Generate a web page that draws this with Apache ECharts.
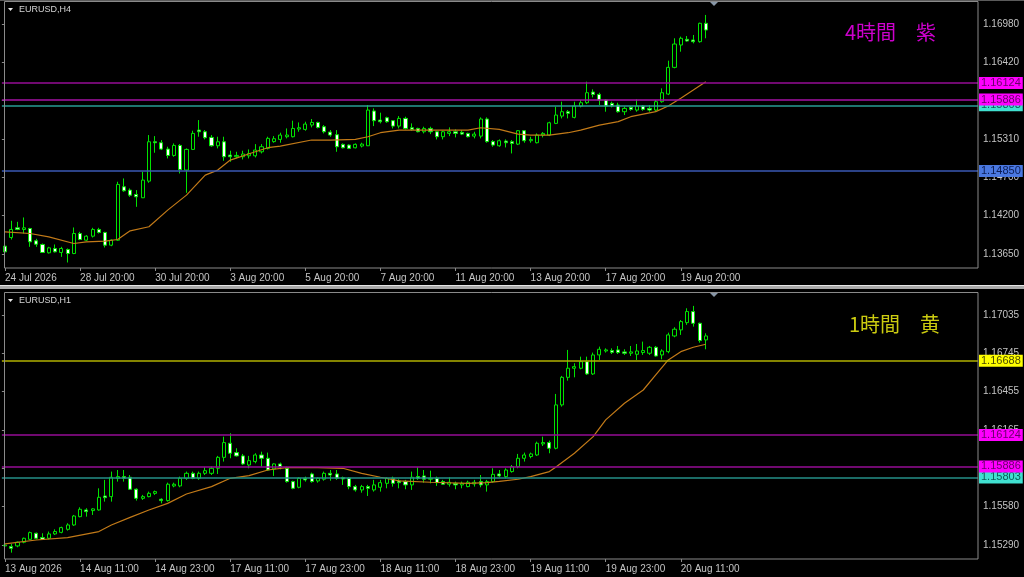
<!DOCTYPE html>
<html><head><meta charset="utf-8">
<script src="https://cdn.jsdelivr.net/npm/echarts@6/dist/echarts.min.js"></script>
<style>html,body{margin:0;padding:0;background:#000;overflow:hidden}#c{width:1024px;height:577px}</style>
</head><body><div id="c"></div>
<script>
// ---- H4 panel data: [open, close, low, high] ----
const h4Candles = [
[1.13764,1.13681,1.13657,1.13778],[1.13889,1.14005,1.13860,1.14131],[1.14029,1.14005,1.13995,1.14116],[1.14005,1.14029,1.13947,1.14179],
[1.14019,1.13826,1.13754,1.14029],[1.13841,1.13792,1.13754,1.13870],[1.13788,1.13672,1.13667,1.13802],[1.13667,1.13739,1.13657,1.13754],
[1.13730,1.13681,1.13672,1.13788],[1.13672,1.13730,1.13609,1.13754],[1.13715,1.13657,1.13527,1.13730],[1.13657,1.13947,1.13648,1.14034],
[1.13947,1.13860,1.13850,1.13971],[1.13850,1.13908,1.13841,1.13923],[1.13908,1.14005,1.13889,1.14029],[1.14005,1.13962,1.13947,1.14029],
[1.13962,1.13778,1.13744,1.13971],[1.13778,1.13850,1.13763,1.13860],[1.13850,1.14657,1.13841,1.14696],[1.14623,1.14565,1.14551,1.14744],
[1.14575,1.14502,1.14478,1.14599],[1.14512,1.14478,1.14333,1.14575],[1.14464,1.14720,1.14460,1.14841],[1.14705,1.15275,1.14681,1.15372],
[1.15275,1.15261,1.15116,1.15357],[1.15261,1.15169,1.15155,1.15299],[1.15169,1.15077,1.15034,1.15203],[1.15077,1.15222,1.15058,1.15251],
[1.15222,1.14874,1.14816,1.15241],[1.14865,1.15164,1.14536,1.15179],[1.15164,1.15396,1.15155,1.15435],[1.15444,1.15420,1.15348,1.15589],
[1.15420,1.15333,1.15309,1.15444],[1.15338,1.15217,1.15203,1.15372],[1.15217,1.15275,1.15179,1.15348],[1.15275,1.15058,1.15000,1.15348],
[1.15082,1.15058,1.14985,1.15145],[1.15058,1.15077,1.15034,1.15130],[1.15058,1.15097,1.15019,1.15145],[1.15072,1.15106,1.15034,1.15164],
[1.15072,1.15155,1.15048,1.15241],[1.15130,1.15203,1.15106,1.15241],[1.15179,1.15324,1.15164,1.15348],[1.15277,1.15319,1.15261,1.15357],
[1.15309,1.15372,1.15261,1.15406],[1.15348,1.15372,1.15324,1.15468],[1.15348,1.15468,1.15338,1.15580],[1.15459,1.15478,1.15420,1.15555],
[1.15454,1.15531,1.15435,1.15565],[1.15517,1.15555,1.15483,1.15604],[1.15555,1.15483,1.15468,1.15565],[1.15493,1.15420,1.15396,1.15517],
[1.15415,1.15372,1.15348,1.15444],[1.15377,1.15203,1.15130,1.15444],[1.15237,1.15188,1.15179,1.15251],[1.15227,1.15179,1.15169,1.15237],
[1.15188,1.15237,1.15179,1.15251],[1.15213,1.15241,1.15193,1.15261],[1.15217,1.15734,1.15213,1.15807],[1.15720,1.15580,1.15502,1.15758],
[1.15589,1.15565,1.15541,1.15696],[1.15623,1.15565,1.15550,1.15638],[1.15580,1.15502,1.15468,1.15589],[1.15502,1.15613,1.15468,1.15647],
[1.15613,1.15468,1.15454,1.15638],[1.15478,1.15454,1.15435,1.15541],[1.15468,1.15420,1.15411,1.15478],[1.15420,1.15468,1.15396,1.15493],
[1.15468,1.15420,1.15386,1.15493],[1.15420,1.15348,1.15309,1.15435],[1.15348,1.15420,1.15309,1.15435],[1.15396,1.15420,1.15357,1.15483],
[1.15420,1.15396,1.15338,1.15454],[1.15411,1.15386,1.15372,1.15444],[1.15396,1.15348,1.15338,1.15406],[1.15357,1.15386,1.15324,1.15420],
[1.15357,1.15604,1.15324,1.15628],[1.15604,1.15277,1.15261,1.15628],[1.15277,1.15227,1.15203,1.15299],[1.15217,1.15290,1.15203,1.15309],
[1.15285,1.15261,1.15193,1.15309],[1.15275,1.15251,1.15106,1.15299],[1.15241,1.15435,1.15227,1.15444],[1.15435,1.15290,1.15261,1.15444],
[1.15290,1.15309,1.15261,1.15348],[1.15261,1.15372,1.15251,1.15396],[1.15372,1.15396,1.15338,1.15415],[1.15372,1.15550,1.15357,1.15565],
[1.15541,1.15662,1.15531,1.15782],[1.15647,1.15710,1.15613,1.15855],[1.15710,1.15686,1.15613,1.15734],[1.15628,1.15792,1.15613,1.15855],
[1.15792,1.15840,1.15773,1.15879],[1.15840,1.15985,1.15821,1.16145],[1.15995,1.15961,1.15918,1.16034],[1.15961,1.15879,1.15807,1.15985],
[1.15879,1.15792,1.15710,1.15889],[1.15831,1.15792,1.15773,1.15855],[1.15807,1.15710,1.15696,1.15840],[1.15710,1.15758,1.15662,1.15783],
[1.15773,1.15744,1.15724,1.15792],[1.15734,1.15792,1.15710,1.15889],[1.15792,1.15744,1.15724,1.15807],[1.15758,1.15734,1.15710,1.15807],
[1.15734,1.15855,1.15710,1.15879],[1.15855,1.15985,1.15840,1.16048],[1.15966,1.16352,1.15951,1.16449],[1.16352,1.16690,1.16338,1.16773],
[1.16676,1.16773,1.16579,1.16797],[1.16758,1.16734,1.16724,1.16806],[1.16748,1.16724,1.16700,1.16821],[1.16724,1.16990,1.16710,1.16999],
[1.16990,1.16893,1.16773,1.17111]
];
const h4MaIdx = [0,4,7,11,13,16,18,20,23,26,29,32,34,36,40,42,44,49,52,56,58,60,63,66,71,74,76,79,82,84,87,90,92,95,98,100,104,106,108,110,112];
const h4MaVal = [1.13971,1.13947,1.13899,1.13802,1.13826,1.13836,1.13860,1.13986,1.14044,1.14285,1.14502,1.14792,1.14865,1.15010,1.15130,1.15189,1.15213,1.15300,1.15300,1.15310,1.15348,1.15406,1.15444,1.15444,1.15444,1.15444,1.15478,1.15454,1.15386,1.15372,1.15372,1.15406,1.15444,1.15517,1.15566,1.15638,1.15711,1.15793,1.15904,1.16024,1.16145];
const h4Levels = [1.15803, 1.16124, 1.15886, 1.14850];
const h4TimeLabels = ['24 Jul 2026','28 Jul 20:00','30 Jul 20:00','3 Aug 20:00','5 Aug 20:00','7 Aug 20:00','11 Aug 20:00','13 Aug 20:00','17 Aug 20:00','19 Aug 20:00'];
const h4PriceLabels = ['1.13650','1.14200','1.14700','1.15310','1.15865','1.16420','1.16980'];

// ---- H1 panel data: [open, close, low, high] ----
const h1Candles = [
[1.15283,1.15290,1.15265,1.15303],[1.15278,1.15265,1.15232,1.15298],[1.15283,1.15311,1.15273,1.15316],[1.15311,1.15341,1.15303,1.15346],
[1.15333,1.15384,1.15328,1.15392],[1.15379,1.15341,1.15333,1.15384],[1.15346,1.15333,1.15328,1.15379],[1.15341,1.15374,1.15333,1.15392],
[1.15374,1.15392,1.15366,1.15409],[1.15386,1.15422,1.15379,1.15429],[1.15409,1.15442,1.15399,1.15455],[1.15442,1.15510,1.15435,1.15518],
[1.15505,1.15561,1.15500,1.15576],[1.15556,1.15543,1.15505,1.15569],[1.15551,1.15564,1.15518,1.15569],[1.15556,1.15652,1.15551,1.15720],
[1.15662,1.15649,1.15619,1.15784],[1.15657,1.15804,1.15619,1.15847],[1.15796,1.15809,1.15771,1.15859],[1.15809,1.15796,1.15771,1.15859],
[1.15804,1.15713,1.15708,1.15821],[1.15713,1.15644,1.15627,1.15720],[1.15644,1.15657,1.15632,1.15670],[1.15657,1.15682,1.15652,1.15695],
[1.15682,1.15695,1.15670,1.15703],[1.15637,1.15627,1.15606,1.15644],[1.15627,1.15751,1.15619,1.15763],[1.15738,1.15751,1.15728,1.15763],
[1.15738,1.15796,1.15728,1.15809],[1.15796,1.15834,1.15784,1.15847],[1.15834,1.15796,1.15789,1.15847],[1.15796,1.15834,1.15784,1.15847],
[1.15834,1.15854,1.15821,1.15880],[1.15834,1.15872,1.15821,1.15885],[1.15872,1.15955,1.15829,1.15966],[1.15955,1.16067,1.15923,1.16112],
[1.16062,1.15986,1.15948,1.16138],[1.15991,1.15966,1.15961,1.16024],[1.15966,1.15905,1.15897,1.15981],[1.15897,1.15930,1.15872,1.15966],
[1.15923,1.15973,1.15910,1.15986],[1.15973,1.15948,1.15885,1.15998],[1.15948,1.15859,1.15854,1.15991],[1.15867,1.15905,1.15814,1.15910],
[1.15905,1.15885,1.15864,1.15915],[1.15872,1.15771,1.15763,1.15885],[1.15771,1.15720,1.15713,1.15778],[1.15728,1.15796,1.15720,1.15804],
[1.15796,1.15784,1.15771,1.15809],[1.15829,1.15771,1.15763,1.15839],[1.15776,1.15796,1.15763,1.15804],[1.15789,1.15834,1.15778,1.15847],
[1.15834,1.15821,1.15778,1.15859],[1.15829,1.15796,1.15784,1.15859],[1.15801,1.15791,1.15746,1.15809],[1.15796,1.15733,1.15713,1.15804],
[1.15733,1.15708,1.15695,1.15746],[1.15708,1.15733,1.15687,1.15746],[1.15733,1.15720,1.15662,1.15746],[1.15708,1.15746,1.15695,1.15784],
[1.15728,1.15763,1.15695,1.15784],[1.15758,1.15796,1.15720,1.15804],[1.15796,1.15758,1.15733,1.15809],[1.15776,1.15763,1.15720,1.15789],
[1.15771,1.15746,1.15713,1.15784],[1.15746,1.15804,1.15708,1.15847],[1.15809,1.15796,1.15784,1.15880],[1.15814,1.15789,1.15763,1.15859],
[1.15789,1.15796,1.15758,1.15854],[1.15796,1.15763,1.15738,1.15809],[1.15771,1.15751,1.15746,1.15784],[1.15751,1.15766,1.15733,1.15804],
[1.15758,1.15746,1.15713,1.15771],[1.15746,1.15758,1.15720,1.15771],[1.15733,1.15766,1.15728,1.15778],[1.15753,1.15766,1.15733,1.15784],
[1.15771,1.15746,1.15728,1.15821],[1.15746,1.15771,1.15695,1.15784],[1.15771,1.15826,1.15763,1.15872],[1.15829,1.15814,1.15804,1.15859],
[1.15809,1.15859,1.15796,1.15872],[1.15847,1.15885,1.15839,1.15897],[1.15885,1.15948,1.15872,1.15981],[1.15948,1.15973,1.15923,1.15991],
[1.15961,1.15981,1.15948,1.15991],[1.15973,1.16062,1.15966,1.16074],[1.16057,1.16067,1.16041,1.16112],[1.16067,1.16024,1.15986,1.16082],
[1.16024,1.16353,1.16016,1.16436],[1.16353,1.16562,1.16340,1.16573],[1.16562,1.16631,1.16537,1.16770],[1.16631,1.16643,1.16562,1.16669],
[1.16631,1.16681,1.16623,1.16719],[1.16681,1.16588,1.16580,1.16719],[1.16588,1.16732,1.16580,1.16750],[1.16732,1.16775,1.16694,1.16795],
[1.16762,1.16770,1.16750,1.16782],[1.16765,1.16752,1.16739,1.16782],[1.16770,1.16750,1.16739,1.16800],[1.16755,1.16745,1.16732,1.16775],
[1.16745,1.16755,1.16724,1.16800],[1.16737,1.16762,1.16694,1.16815],[1.16750,1.16765,1.16732,1.16833],[1.16745,1.16790,1.16732,1.16800],
[1.16790,1.16724,1.16719,1.16800],[1.16732,1.16762,1.16699,1.16775],[1.16757,1.16884,1.16745,1.16901],[1.16876,1.16927,1.16866,1.16942],
[1.16922,1.16985,1.16884,1.16997],[1.16977,1.17061,1.16960,1.17086],[1.17061,1.16972,1.16947,1.17104],[1.16972,1.16841,1.16825,1.16977],
[1.16846,1.16876,1.16775,1.16896]
];
const h1MaIdx = [0,5,10,15,17,20,23,26,29,33,36,39,42,45,50,54,57,60,63,68,74,77,79,82,84,87,88,91,94,96,99,102,104,106,108,110,112];
const h1MaVal = [1.15298,1.15328,1.15346,1.15392,1.15442,1.15500,1.15556,1.15606,1.15677,1.15733,1.15796,1.15816,1.15859,1.15877,1.15877,1.15872,1.15834,1.15804,1.15776,1.15766,1.15758,1.15763,1.15773,1.15789,1.15809,1.15847,1.15880,1.15986,1.16112,1.16239,1.16365,1.16466,1.16580,1.16694,1.16757,1.16790,1.16813];
const h1Levels = [1.15803, 1.16124, 1.15886, 1.16688];
const h1TimeLabels = ['13 Aug 2026','14 Aug 11:00','14 Aug 23:00','17 Aug 11:00','17 Aug 23:00','18 Aug 11:00','18 Aug 23:00','19 Aug 11:00','19 Aug 23:00','20 Aug 11:00'];
const h1PriceLabels = ['1.15290','1.15580','1.15875','1.16165','1.16455','1.16745','1.17035'];

// ---- styling ----
const FONT = '"Liberation Sans", Arial, sans-serif';
const AXC = '#c4c4c4';
const FRAME = '#8a8a8a';
const SLOTS = 156;
const cats = Array.from({length: SLOTS}, (_, i) => String(i));
const levelStyles = {
  top: [
    {line:'#279c95', bg:'#40e0d0', fg:'#0d5f58'},
    {line:'#960c96', bg:'#ff00ff', fg:'#6a006a'},
    {line:'#a612a6', bg:'#ff00ff', fg:'#6a006a'},
    {line:'#3a58b4', bg:'#4a78e0', fg:'#0c1d55'}
  ],
  bottom: [
    {line:'#258f89', bg:'#40e0d0', fg:'#0d5f58'},
    {line:'#960c96', bg:'#ff00ff', fg:'#6a006a'},
    {line:'#960c96', bg:'#ff00ff', fg:'#6a006a'},
    {line:'#b0b000', bg:'#ffff00', fg:'#4a4a00'}
  ]
};

function catAxis(grid, labels) {
  const show = (i) => i % 12 === 0 && i / 12 < labels.length;
  return {
    type: 'category', gridIndex: grid, data: cats, boundaryGap: true,
    axisLine: {show: false},
    axisTick: {show: true, alignWithLabel: true, length: 3, interval: show, lineStyle: {color: FRAME}},
    axisLabel: {show: true, interval: show, formatter: (v, i) => labels[i / 12] || '', align: 'left',
      color: AXC, fontSize: 10, fontFamily: FONT, margin: 5, hideOverlap: false},
    splitLine: {show: false}
  };
}
function labelYAxis(grid, labels) {
  return {
    type: 'value', gridIndex: grid, position: 'right', min: 0, max: 6, interval: 1,
    axisLine: {show: false}, splitLine: {show: false},
    axisTick: {show: true, length: 3, lineStyle: {color: FRAME}},
    axisLabel: {color: AXC, fontSize: 10, fontFamily: FONT, margin: 5,
      formatter: (v) => labels[Math.round(v)] || ''}
  };
}
// one helper series per horizontal level, so each line keeps its own colour
function levelSeries(axisIdx, levels, styles) {
  return levels.map((v, k) => ({
    type: 'line', xAxisIndex: axisIdx, yAxisIndex: axisIdx, data: [], silent: true, clip: false, z: 2,
    color: styles[k].line,
    markLine: {
      symbol: ['none', 'none'], silent: true, animation: false, precision: 5,
      lineStyle: {type: 'solid', width: 1.5, color: styles[k].line, opacity: 1},
      label: {show: true, position: 'end', distance: 1, fontSize: 11, fontFamily: FONT,
        padding: [1, 2, 0, 2], lineHeight: 11, backgroundColor: styles[k].bg, color: styles[k].fg,
        formatter: (p) => Number(p.value).toFixed(5)},
      data: [{yAxis: v}]
    }
  }));
}
const candleStyle = {color: '#000000', color0: '#ffffff', borderColor: '#00e400', borderColor0: '#00e400', borderWidth: 1};

const chart = echarts.init(document.getElementById('c'), null, {renderer: 'canvas'});
const GL = 1.875, GW = 976.125;
chart.setOption({
  backgroundColor: '#000000',
  animation: false,
  grid: [
    {left: GL, width: GW, top: 2, height: 266},
    {left: GL, width: GW, top: 24, height: 230},
    {left: GL, width: GW, top: 293, height: 266},
    {left: GL, width: GW, top: 315, height: 230}
  ],
  xAxis: [
    catAxis(0, h4TimeLabels),
    {type: 'value', gridIndex: 1, show: false, min: 0, max: 1},
    catAxis(2, h1TimeLabels),
    {type: 'value', gridIndex: 3, show: false, min: 0, max: 1}
  ],
  yAxis: [
    {type: 'value', gridIndex: 0, show: false, min: 1.134473, max: 1.172985, splitLine: {show: false}},
    labelYAxis(1, h4PriceLabels),
    {type: 'value', gridIndex: 2, show: false, min: 1.151838, max: 1.172019, splitLine: {show: false}},
    labelYAxis(3, h1PriceLabels)
  ],
  series: [
    ...levelSeries(0, h4Levels, levelStyles.top),
    {type: 'candlestick', xAxisIndex: 0, yAxisIndex: 0, data: h4Candles, barWidth: 3.6, itemStyle: candleStyle, silent: true, z: 3},
    {type: 'line', xAxisIndex: 0, yAxisIndex: 0, data: h4MaIdx.map((x, k) => [x, h4MaVal[k]]),
      symbol: 'none', showSymbol: false, silent: true, z: 4,
      lineStyle: {color: '#c27a18', width: 1.2}},
    ...levelSeries(2, h1Levels, levelStyles.bottom),
    {type: 'candlestick', xAxisIndex: 2, yAxisIndex: 2, data: h1Candles, barWidth: 3.6, itemStyle: candleStyle, silent: true, z: 3},
    {type: 'line', xAxisIndex: 2, yAxisIndex: 2, data: h1MaIdx.map((x, k) => [x, h1MaVal[k]]),
      symbol: 'none', showSymbol: false, silent: true, z: 4,
      lineStyle: {color: '#c27a18', width: 1.2}}
  ],
  graphic: [
    {type: 'rect', shape: {x: 0, y: 0, width: 1024, height: 1}, style: {fill: '#5a5a5a'}, silent: true, z: 20},
    {type: 'rect', shape: {x: 4.5, y: 1.5, width: 973.5, height: 266.5}, style: {fill: null, stroke: FRAME, lineWidth: 1}, silent: true, z: 20},
    {type: 'rect', shape: {x: 4.5, y: 292.5, width: 973.5, height: 266.5}, style: {fill: null, stroke: FRAME, lineWidth: 1}, silent: true, z: 20},
    {type: 'rect', shape: {x: 0, y: 285, width: 1024, height: 4}, style: {fill: '#a9a9a9'}, silent: true, z: 20},
    {type: 'rect', shape: {x: 0, y: 285, width: 1024, height: 1}, style: {fill: '#e6e6e6'}, silent: true, z: 21},
    {type: 'polygon', shape: {points: [[8, 8], [13, 8], [10.5, 11]]}, style: {fill: '#e8e8e8'}, silent: true, z: 20},
    {type: 'text', x: 19, y: 10, style: {text: 'EURUSD,H4', fill: '#d4d4d4', font: '9px "Liberation Sans", Arial, sans-serif', textVerticalAlign: 'middle'}, silent: true, z: 20},
    {type: 'polygon', shape: {points: [[8, 299], [13, 299], [10.5, 302]]}, style: {fill: '#e8e8e8'}, silent: true, z: 20},
    {type: 'text', x: 19, y: 301, style: {text: 'EURUSD,H1', fill: '#d4d4d4', font: '9px "Liberation Sans", Arial, sans-serif', textVerticalAlign: 'middle'}, silent: true, z: 20},
    {type: 'polygon', shape: {points: [[710, 2], [718, 2], [714, 6]]}, style: {fill: '#8796a6'}, silent: true, z: 20},
    {type: 'polygon', shape: {points: [[710, 293], [718, 293], [714, 297]]}, style: {fill: '#8796a6'}, silent: true, z: 20},
    {type: 'text', x: 845, y: 32, style: {text: '4時間　紫', fill: '#cc00cc', font: '20px "Noto Sans CJK JP"', textVerticalAlign: 'middle'}, silent: true, z: 20},
    {type: 'text', x: 849, y: 324, style: {text: '1時間　黄', fill: '#cccc10', font: '20px "Noto Sans CJK JP"', textVerticalAlign: 'middle'}, silent: true, z: 20}
  ]
});
</script>
</body></html>
